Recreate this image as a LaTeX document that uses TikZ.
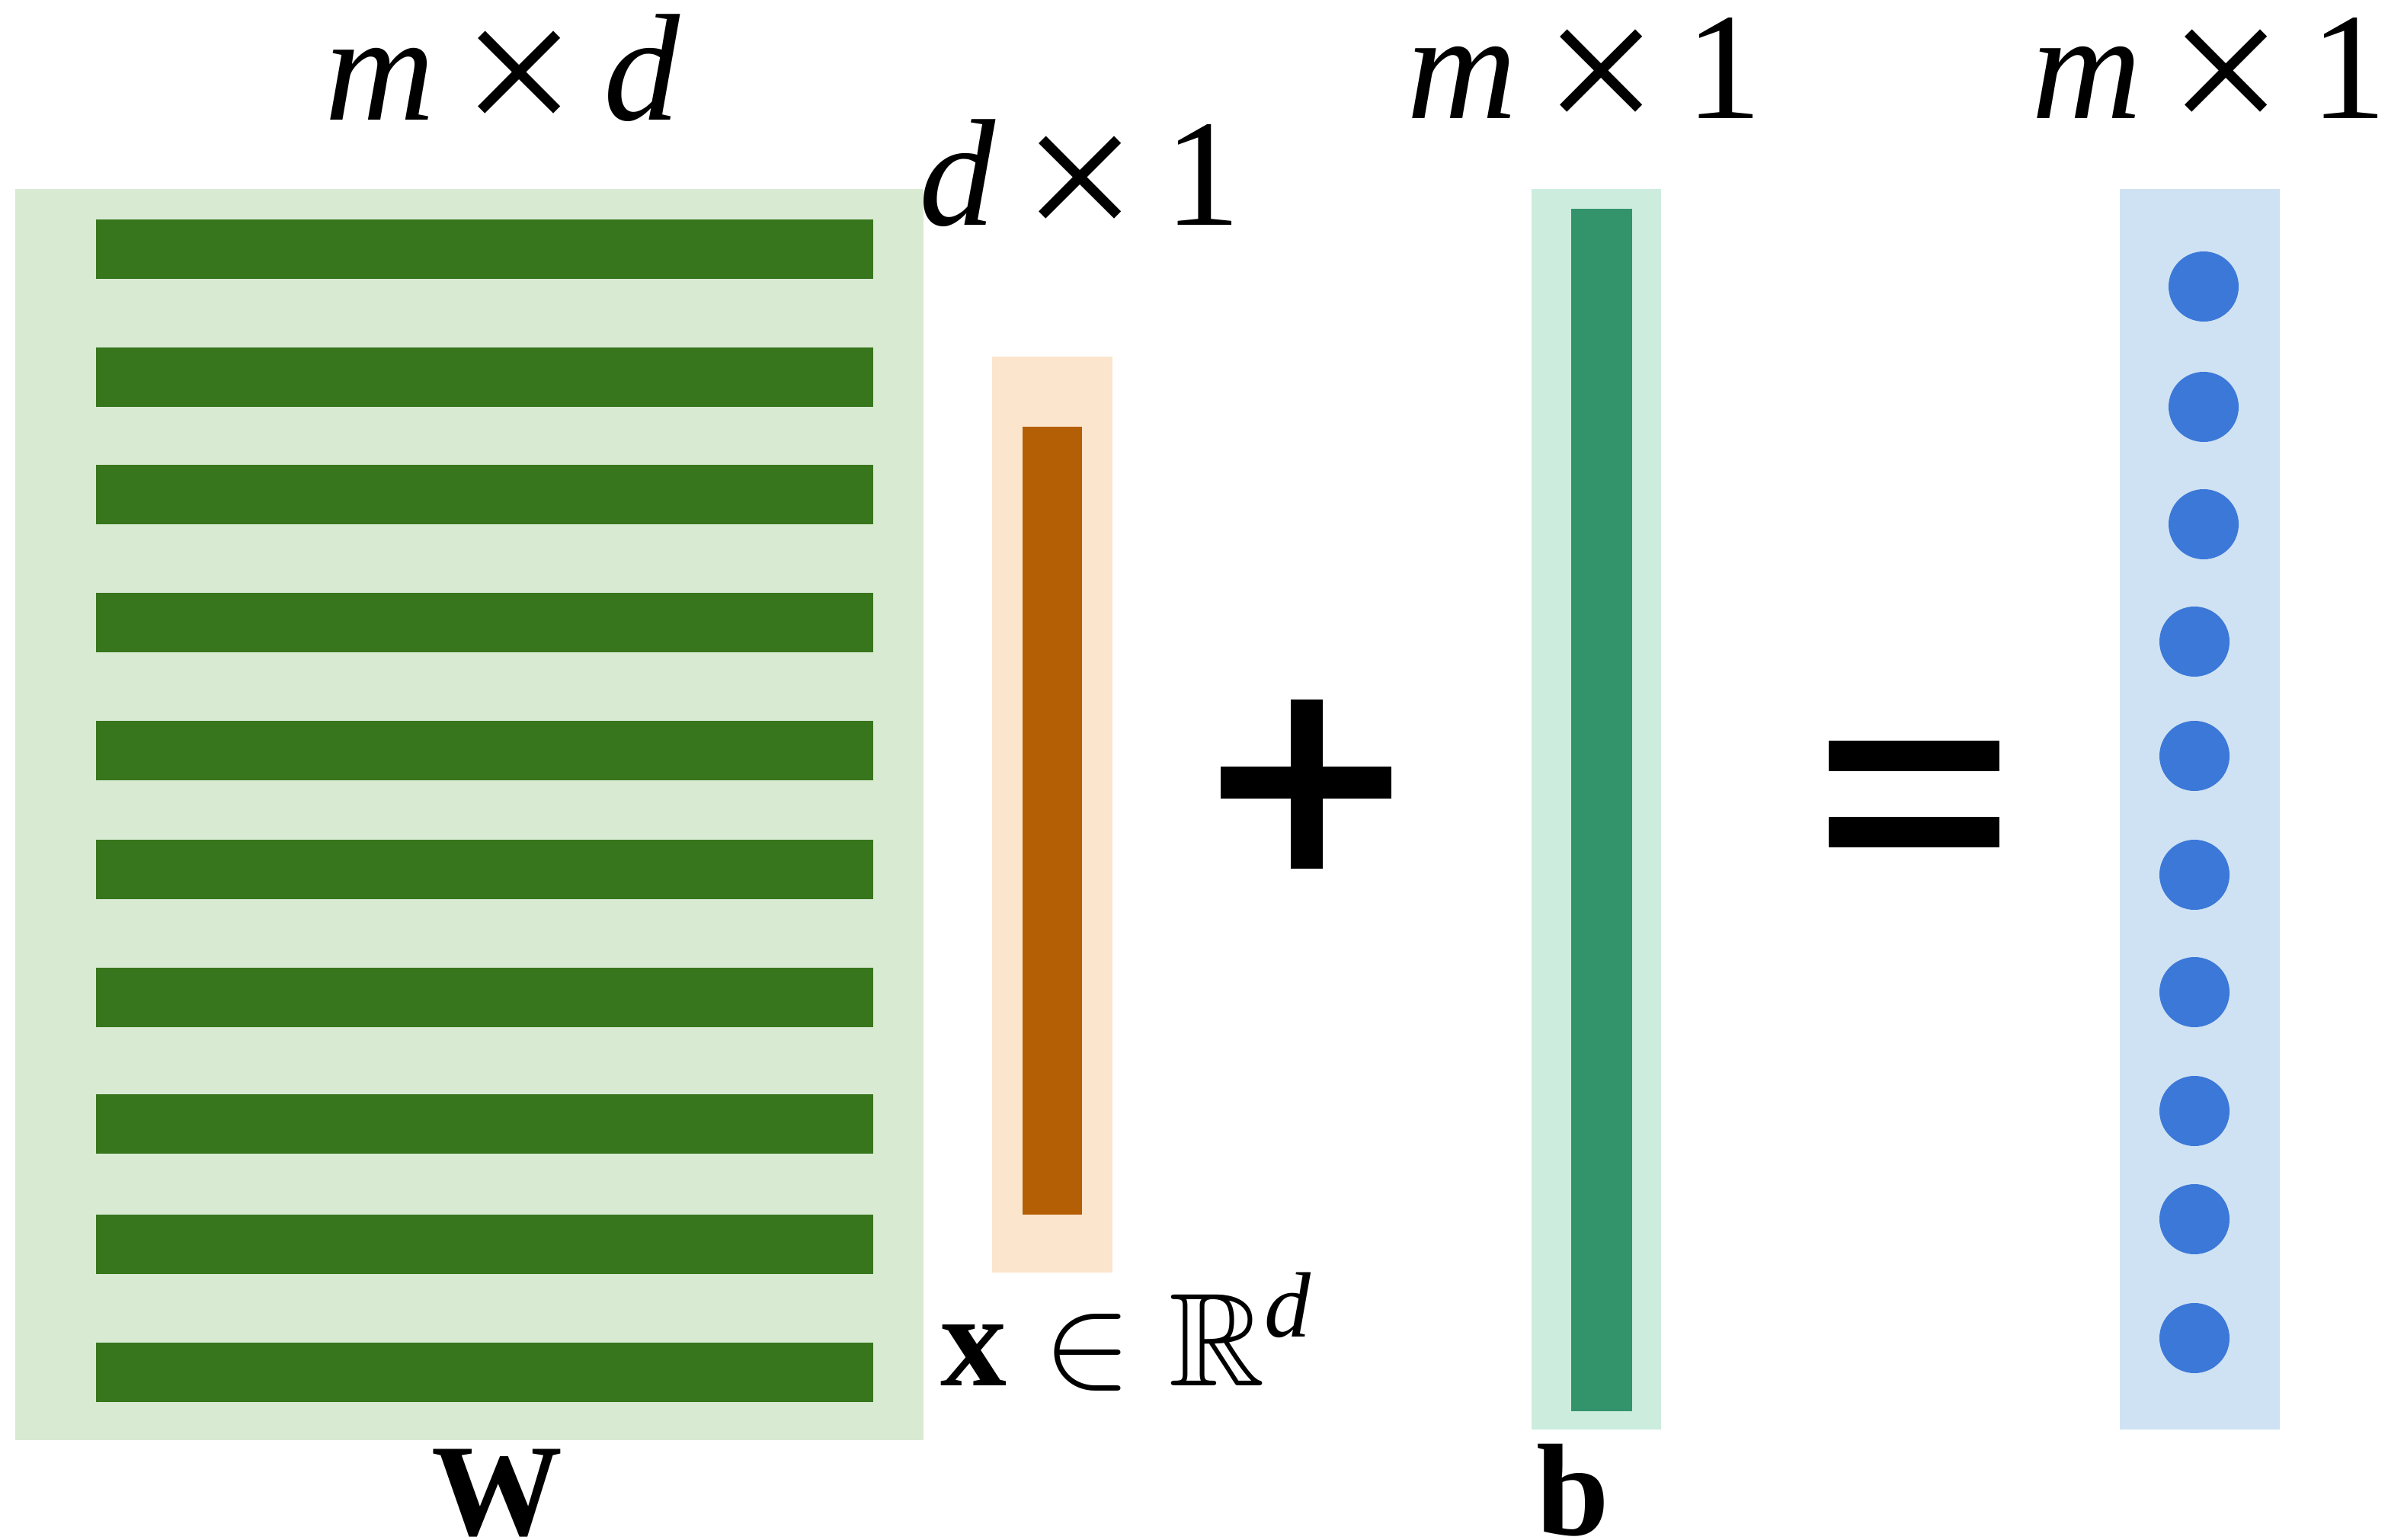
\documentclass[tikz,border=0pt]{standalone}
\usepackage{amsmath,amssymb}
\usepackage{graphicx}
\usepackage{fontspec}
\setmainfont{Liberation Serif}
\DeclareFontShape{OMS}{cmsy}{m}{n}{<->cmsy10}{}
\DeclareFontFamily{U}{msb}{}
\DeclareFontShape{U}{msb}{m}{n}{<-> msbm10}{}
\definecolor{colWbg}{HTML}{D9EAD3}
\definecolor{colWbar}{HTML}{38761D}
\definecolor{colXbg}{HTML}{FCE5CD}
\definecolor{colXbar}{HTML}{B45F06}
\definecolor{colBbg}{HTML}{CCEDDE}
\definecolor{colBbar}{HTML}{33946C}
\definecolor{colYbg}{HTML}{CFE2F3}
\definecolor{colYdot}{HTML}{3C78D8}
\newcommand{\dimtimes}{\hspace{0.18em}\raisebox{-0.13em}{\scalebox{1.33}{×}}\hspace{0.18em}}
\tikzset{
  lbl/.style={anchor=base west, inner sep=0pt, font=\fontsize{100}{100}\selectfont},
  blbl/.style={anchor=base west, inner sep=0pt, font=\fontsize{86}{86}\selectfont\bfseries},
  dotnode/.style={circle, fill=colYdot, minimum size=46pt, inner sep=0pt}
}
\begin{document}
\begin{tikzpicture}[x=1pt,y=-1pt]
\useasboundingbox (0,0) rectangle (1567,1010.5);
% W matrix
\fill[colWbg] (10,124) rectangle (606,945);
\foreach \y in {144,228,305,389,473,551,635,718,797,881}
  \fill[colWbar] (63,\y) rectangle (573,\y+39);
% x vector
\fill[colXbg] (651,234) rectangle (730,835);
\fill[colXbar] (671,280) rectangle (710,797);
% plus
\fill[black] (801,503) rectangle (913,524);
\fill[black] (847,459) rectangle (868,570);
% b vector
\fill[colBbg] (1005,124) rectangle (1090,938);
\fill[colBbar] (1031,137) rectangle (1071,926);
% equals
\fill[black] (1200,486) rectangle (1312,506);
\fill[black] (1200,536) rectangle (1312,556);
% output vector
\fill[colYbg] (1391,124) rectangle (1496,938);
\foreach \x/\y [count=\i] in {1446/188,1446/267,1446/344,1440/421,1440/496,1440/574,1440/651,1440/729,1440/800,1440/878}
  \node[dotnode] (y\i) at (\x,\y) {};
% labels
\node[lbl] (lw) at (213,79) {\textit{m}\dimtimes\textit{d}};
\node[lbl] (lx) at (603,148) {\textit{d}\dimtimes 1};
\node[lbl] (lb) at (923,78) {\textit{m}\dimtimes 1};
\node[lbl] (ly) at (1333,78) {\textit{m}\dimtimes 1};
\node[anchor=base west, inner sep=0pt, font=\fontsize{87}{87}\selectfont] (xin) at (617,909) {$\textbf{x}\in\mathbb{R}^{\textit{d}}$};
\node[blbl] (W) at (283,1007) {W};
\node[blbl] (b) at (1008,1007) {b};
\end{tikzpicture}
\end{document}
